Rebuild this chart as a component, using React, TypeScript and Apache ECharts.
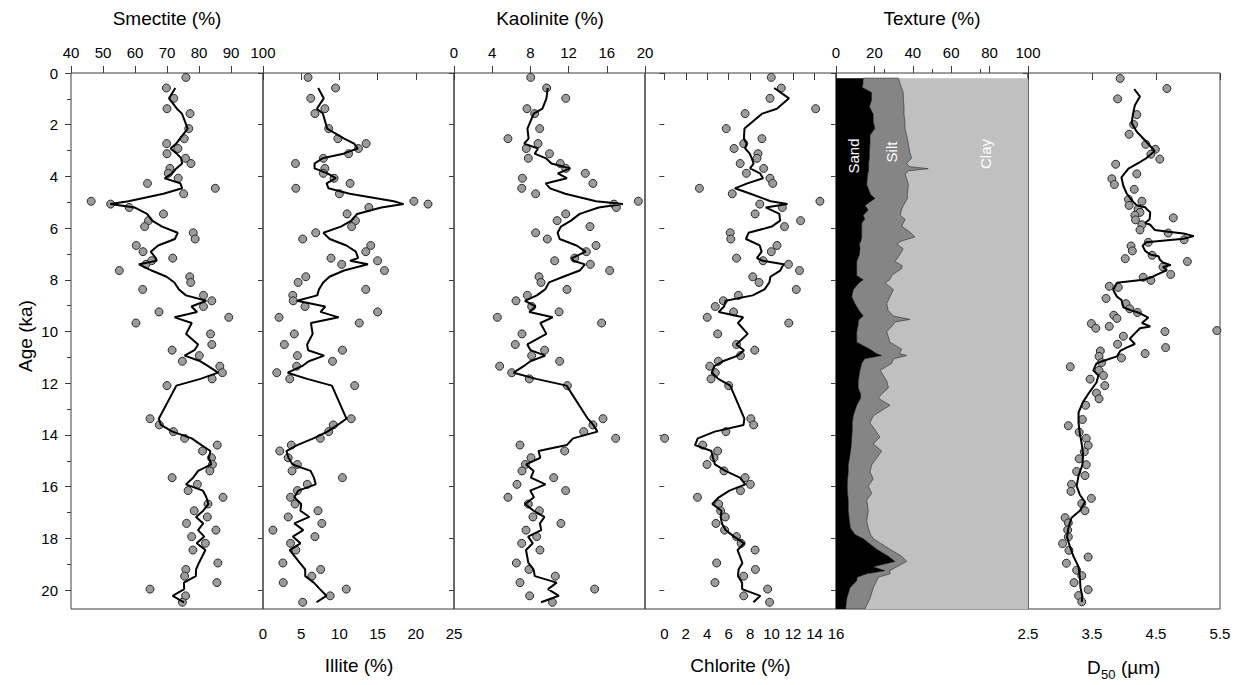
import React, { useEffect, useRef } from "react";
import * as echarts from "echarts";

// ---------- Data ----------
const ageTicks = [0, 2, 4, 6, 8, 10, 12, 14, 16, 18, 20];
const ageMinorTicks = [1, 3, 5, 7, 9, 11, 13, 15, 17, 19];
const smectiteTicks = [40, 50, 60, 70, 80, 90, 100];
const illiteTicks = [0, 5, 10, 15, 20, 25];
const kaoliniteTicks = [0, 4, 8, 12, 16, 20];
const chloriteTicks = [0, 2, 4, 6, 8, 10, 12, 14, 16];
const textureTicks = [0, 20, 40, 60, 80, 100];
const textureMinorTicks = [25, 50, 75];
const d50Ticks = [2.5, 3.5, 4.5, 5.5];

// sample ages shared by the clay-mineral records (ka)
const clayAges = [0.17,0.58,0.98,1.38,1.57,2.15,2.54,2.73,2.92,3.12,3.30,3.50,3.69,3.88,4.07,4.27,4.46,4.67,4.96,5.07,5.20,5.45,5.71,5.94,6.18,6.42,6.67,6.91,7.16,7.26,7.40,7.64,7.88,8.10,8.37,8.60,8.81,9.03,9.24,9.45,9.67,10.09,10.50,10.72,10.93,11.15,11.34,11.59,11.83,12.09,13.37,13.61,13.87,14.13,14.39,14.62,14.88,15.14,15.39,15.65,15.91,16.15,16.41,16.67,16.93,17.17,17.42,17.68,17.93,18.19,18.45,18.95,19.20,19.46,19.71,19.96,20.22,20.47];

const smectite = [75.9,69.8,72.1,70.0,77.2,76.8,75.4,69.9,73.4,70.0,75.8,77.5,70.9,70.4,73.5,63.9,85.1,75.2,46.3,52.4,58.2,68.9,64.2,63.0,78.2,78.8,60.4,62.5,71.8,65.2,63.4,55.1,77.1,77.4,62.4,81.4,84.0,81.4,67.5,89.3,60.3,83.6,84.0,71.6,80.1,74.8,86.5,87.3,84.1,70.0,64.7,67.6,72.0,75.5,85.7,81.1,83.9,84.2,83.4,71.6,79.5,76.6,87.5,82.8,78.5,82.6,76.1,85.3,77.7,82.0,78.1,85.9,75.9,75.5,85.6,64.7,75.8,74.8];
const illite = [5.9,9.5,6.25,8.1,6.8,8.6,9.8,13.5,12.5,11.2,7.9,4.25,8.1,7.9,9.3,11.4,4.3,10.0,19.75,21.6,13.85,11.0,12.1,11.6,6.9,5.2,14.1,13.45,8.9,15.0,10.3,15.9,5.6,4.6,13.45,3.9,3.95,5.5,15.0,2.1,12.6,4.1,2.8,10.4,4.5,9.1,4.4,1.8,3.5,12.0,11.55,9.2,8.6,7.5,3.7,2.2,3.3,4.5,3.8,10.4,5.8,4.5,3.6,4.2,7.2,3.3,7.7,1.3,6.8,3.6,4.3,2.6,7.55,6.4,2.65,10.9,8.8,5.2];
const kaolinite = [8.03,9.7,11.7,7.64,8.45,8.97,5.65,8.8,7.57,10.0,7.78,11.13,11.7,13.75,7.16,14.55,7.09,8.55,19.3,16.75,17.0,11.7,10.8,14.24,8.55,9.77,14.87,13.86,12.64,10.54,14.28,16.3,8.9,9.11,11.83,7.68,6.49,8.13,11.0,4.54,15.46,7.12,6.42,9.49,8.13,11.06,4.78,6.04,7.89,11.87,15.6,14.55,13.58,16.93,6.91,11.59,8.06,7.47,7.12,10.44,6.6,11.69,5.65,7.78,8.94,8.27,11.2,7.54,8.66,7.09,9.0,6.53,7.85,10.61,6.91,14.73,7.92,10.3];
const chlorite = [9.97,10.9,9.85,14.1,7.53,5.77,9.1,7.4,6.5,8.73,8.64,7.07,9.26,7.65,9.85,10.1,3.27,6.33,14.5,8.9,11.0,8.46,12.7,11.2,6.14,6.2,10.5,9.97,6.73,9.2,11.57,12.6,8.24,8.83,12.3,6.9,5.5,4.75,6.45,4.0,11.6,4.97,6.73,8.43,7.1,5.03,4.23,4.75,4.35,6.0,8.06,8.33,5.74,0.03,3.58,4.97,4.63,3.98,5.56,7.53,8.02,7.1,3.09,5.06,5.25,5.68,4.81,5.62,6.73,7.16,8.46,4.88,8.49,7.4,4.72,9.63,7.4,9.81];

// smoothed curves, read at the sample ages from the 2nd sample onward
const smectiteLine = [72.6,70.63,73.1,74.67,76.47,74.03,72.9,71.1,73.07,74.43,74.73,72.93,71.6,69.27,74.17,74.73,68.87,57.97,52.3,59.83,63.77,65.37,68.47,73.33,72.47,67.23,64.9,66.5,66.8,61.23,65.2,69.87,72.3,73.73,75.93,82.27,77.63,79.4,72.37,77.73,75.97,79.73,78.57,75.5,80.47,82.87,85.97,80.47,72.93,67.43,68.1,71.7,77.73,80.77,83.57,83.07,83.83,79.73,78.17,75.9,81.2,82.3,82.93,81.3,79.07,81.33,79.7,81.67,79.27,82.0,79.97,79.1,79.0,75.27,75.37,71.77,75.3];
const illiteLine = [7.22,7.95,7.05,7.83,8.4,10.63,11.93,12.4,10.53,7.78,6.75,6.75,8.43,9.53,8.33,8.57,11.35,17.12,18.4,15.48,12.32,11.57,10.2,7.9,8.73,10.92,12.15,12.45,11.4,13.73,10.6,8.7,7.88,7.32,7.1,4.45,8.15,7.53,9.9,6.27,6.5,5.77,5.9,8.0,6.0,5.1,3.23,5.77,9.02,10.92,9.78,8.43,6.6,4.47,3.07,3.33,3.87,6.23,6.67,6.9,4.63,4.1,5.0,4.9,6.07,4.1,5.27,3.9,4.9,3.5,4.82,5.52,5.53,6.65,7.45,8.3,7.0];
const kaoliniteLine = [9.81,9.68,9.26,8.35,7.69,7.81,7.34,8.79,8.45,9.64,10.2,12.19,10.87,11.82,9.6,10.06,11.65,14.87,17.68,15.15,13.17,12.25,11.2,10.85,11.06,12.83,13.79,12.35,12.49,13.71,13.16,11.44,9.95,9.54,8.67,7.43,8.54,7.89,10.33,9.04,9.67,7.68,8.01,9.56,7.99,7.29,6.24,8.6,11.79,14.01,14.58,15.02,12.47,11.81,8.85,9.04,7.55,8.34,8.05,9.58,7.98,8.37,7.46,8.33,9.47,9.0,9.13,7.76,8.25,7.54,7.79,8.33,8.46,10.75,9.85,10.98,9.11];
const chloriteLine = [10.24,11.62,10.49,9.13,7.47,7.42,7.67,7.54,7.96,8.15,8.32,7.99,8.92,9.2,7.74,6.57,8.03,9.91,11.47,9.45,10.72,10.79,10.01,7.85,7.61,8.89,9.07,8.63,9.17,11.12,10.8,9.89,9.79,9.34,8.23,5.72,5.57,5.07,7.35,6.86,7.77,6.71,7.42,6.85,5.45,4.67,4.44,5.03,6.14,7.46,7.38,4.7,3.12,2.86,4.39,4.53,4.72,5.69,7.04,7.55,6.07,5.08,4.47,5.33,5.25,5.37,5.72,6.5,7.45,6.83,7.28,6.92,6.87,7.25,7.25,8.95,8.3];

// texture (%): sand and sand+silt boundaries
const texAges = [0.2,0.45,0.55,0.75,1.05,1.3,1.6,1.9,2.14,2.41,2.68,3.09,3.29,3.49,3.62,3.7,3.78,3.9,4.31,4.7,4.85,5.12,5.3,5.5,5.66,5.8,5.93,6.15,6.34,6.5,6.61,6.8,7.02,7.29,7.45,7.56,7.83,8.0,8.11,8.38,8.65,8.92,9.19,9.4,9.53,9.63,9.73,10.01,10.41,10.68,10.85,10.93,11.05,11.23,11.5,11.91,12.18,12.4,12.58,12.85,13.26,13.53,13.8,14.08,14.35,14.62,14.89,15.16,15.43,15.7,15.98,16.25,16.52,16.93,17.33,17.6,17.85,18.01,18.42,18.69,18.89,19.1,19.25,19.37,19.5,19.64,19.91,20.32,20.73];
const sand = [14.2,14.0,13.5,18.5,18.5,17.4,19.4,19.4,20.3,17.7,17.7,17.4,17.4,17.0,17.0,17.0,17.0,16.5,16.0,18.0,20.3,15.1,16.8,14.2,15.0,13.4,13.4,13.4,13.4,13.0,12.2,12.5,12.2,10.8,10.8,10.8,10.8,14.2,12.0,9.0,8.2,9.9,12.0,14.2,12.0,11.6,11.6,10.8,10.8,17.7,21.0,23.8,15.0,13.4,12.5,11.6,11.6,12.8,12.8,10.8,9.0,8.5,8.5,8.2,8.0,7.6,7.0,6.4,6.4,6.0,5.9,6.0,6.4,6.4,7.0,7.5,9.9,14.2,21.2,27.3,30.7,19.4,25.5,16.0,11.0,10.8,7.3,5.6,5.0];
const sandPlusSilt = [32.5,33.5,34.0,35.0,35.1,35.4,35.4,35.9,35.9,36.8,37.5,38.5,39.4,36.8,38.0,48.0,38.0,36.0,37.7,37.2,37.2,35.1,34.0,33.5,36.0,35.0,34.2,38.5,41.0,34.0,31.6,35.0,33.3,30.7,34.5,34.2,29.0,28.0,25.5,29.9,28.1,26.4,27.2,30.0,38.5,30.5,29.9,26.4,28.1,34.2,33.0,36.8,30.0,29.0,23.0,26.4,27.3,24.0,22.0,28.1,19.4,17.7,20.3,22.9,19.4,23.8,21.2,18.6,17.7,19.4,16.8,18.6,16.0,16.8,16.0,16.8,18.0,19.4,28.1,34.2,36.8,31.6,28.0,28.1,22.0,21.2,19.4,17.7,15.0];

// D50 (µm)
const d50Ages = [0.21,0.60,1.00,1.61,1.99,2.37,2.76,2.95,3.14,3.33,3.53,3.90,4.09,4.31,4.50,4.89,4.96,5.12,5.26,5.39,5.50,5.60,5.68,5.87,6.07,6.19,6.45,6.55,6.69,6.88,7.05,7.18,7.29,7.50,7.79,7.90,8.02,8.25,8.29,8.72,8.92,9.12,9.26,9.37,9.49,9.69,9.80,9.87,9.96,10.0,10.18,10.49,10.62,10.75,10.85,10.96,11.02,11.20,11.36,11.50,11.70,11.84,12.09,12.38,12.60,12.85,13.40,13.64,13.89,14.13,14.40,14.65,14.92,15.15,15.41,15.57,15.91,16.18,16.45,16.65,16.93,17.20,17.40,17.67,17.94,18.20,18.46,18.72,18.96,19.23,19.44,19.71,19.98,20.21,20.45];
const d50 = [3.94,4.67,3.90,4.20,4.15,4.08,4.34,4.49,4.42,4.56,3.87,4.20,3.81,3.85,4.16,4.07,4.28,4.08,4.22,4.25,4.17,4.77,4.18,4.28,4.25,4.69,4.94,4.38,4.11,4.13,4.44,4.02,4.99,4.61,4.73,4.30,4.42,3.77,3.91,3.72,4.03,4.09,4.21,3.84,3.89,3.49,3.77,3.56,5.45,4.64,3.99,3.90,4.65,3.63,4.33,3.61,3.96,3.65,3.16,3.61,3.68,3.47,3.70,3.57,3.61,3.40,3.35,3.13,3.30,3.41,3.44,3.38,3.30,3.41,3.26,3.39,3.18,3.17,3.49,3.34,3.39,3.08,3.13,3.12,3.13,3.04,3.14,3.44,3.10,3.26,3.34,3.22,3.44,3.29,3.34];
const d50LineAges = [0.62,0.91,1.25,1.59,1.93,2.27,2.61,2.88,3.02,3.29,3.49,3.70,4.04,4.37,4.65,4.92,5.12,5.19,5.28,5.39,5.66,5.80,5.87,6.07,6.14,6.21,6.31,6.41,6.55,6.68,6.88,7.02,7.09,7.22,7.33,7.43,7.50,7.63,7.77,7.90,8.00,8.11,8.38,8.65,8.78,9.06,9.19,9.26,9.46,9.67,9.80,9.87,10.07,10.28,10.48,10.62,10.75,10.96,11.16,11.23,11.50,11.70,11.97,12.31,12.72,13.13,13.53,13.94,14.35,14.75,15.16,15.57,15.98,16.31,16.59,16.93,17.20,17.60,17.94,18.28,18.69,19.10,19.50,19.91,20.25,20.45];
const d50Line = [4.16,4.25,4.17,4.14,4.12,4.20,4.33,4.43,4.48,4.35,4.22,4.07,3.96,3.99,4.04,4.12,4.20,4.33,4.36,4.41,4.40,4.33,4.41,4.48,4.69,4.93,5.09,4.93,4.35,4.29,4.33,4.41,4.54,4.56,4.61,4.73,4.61,4.67,4.54,4.43,4.30,3.89,3.83,3.89,3.96,3.99,4.12,4.22,4.38,4.28,4.41,4.25,4.17,4.09,4.17,4.04,3.94,3.89,3.65,3.57,3.52,3.60,3.57,3.47,3.36,3.29,3.29,3.31,3.34,3.36,3.35,3.29,3.26,3.31,3.39,3.31,3.18,3.13,3.11,3.15,3.21,3.29,3.31,3.32,3.35,3.34];

// ---------- Layout / style ----------
const FONT = "'Liberation Sans', Arial, Helvetica, sans-serif";
const AX = "#3c3c3c";
const AGE_MAX = 20.73;
const TOP = 73;
const BOTTOM = 609;
const edges = [71, 263, 454, 645, 836, 1028, 1220];

function xAx(grid: number, pos: string, min: number, max: number, ticks: number[], labels = true, len = 7) {
  return {
    type: "value", gridIndex: grid, position: pos, min, max,
    axisLine: { show: false }, splitLine: { show: false },
    axisTick: { show: true, inside: false, length: len, customValues: ticks, lineStyle: { color: AX, width: 1 } },
    axisLabel: { show: labels, customValues: ticks, margin: pos === "top" ? 13 : 17, fontSize: 15, color: "#000", fontFamily: FONT },
  };
}
function yAx(grid: number, ticks: number[], labels: boolean, len: number) {
  return {
    type: "value", gridIndex: grid, position: "left", inverse: true, min: 0, max: AGE_MAX,
    axisLine: { show: false }, splitLine: { show: false },
    axisTick: { show: true, inside: false, length: len, customValues: ticks, lineStyle: { color: AX, width: 1 } },
    axisLabel: { show: labels, customValues: ticks, margin: 13, fontSize: 15, color: "#000", fontFamily: FONT },
  };
}

function pts(vals: number[], ages: number[]) {
  return vals.map((v, i) => [v, ages[i]]);
}
function scatter(idx: number, data: number[][]) {
  return {
    type: "scatter", xAxisIndex: idx, yAxisIndex: idx, data, symbolSize: 8, z: 2,
    itemStyle: { color: "#9c9c9c", borderColor: "#2b2b2b", borderWidth: 1, opacity: 1 },
  };
}
function line(idx: number, data: number[][]) {
  return {
    type: "line", xAxisIndex: idx, yAxisIndex: idx, data, showSymbol: false, symbol: "none", z: 3,
    lineStyle: { color: "#000", width: 2 }, clip: true,
  };
}

function areaSeries(leftVals: (i: number) => number, rightVals: (i: number) => number, fill: string, stroke?: string) {
  return {
    type: "custom", xAxisIndex: 4, yAxisIndex: 4, clip: true, silent: true, z: 1,
    data: texAges.map((a, i) => [rightVals(i), a]),
    renderItem: (params: any, api: any) => {
      if (params.dataIndex !== 0) return null;
      const points: number[][] = [];
      for (let i = 0; i < texAges.length; i++) points.push(api.coord([leftVals(i), texAges[i]]));
      for (let i = texAges.length - 1; i >= 0; i--) points.push(api.coord([rightVals(i), texAges[i]]));
      return {
        type: "polygon",
        shape: { points },
        style: { fill, stroke: stroke || "none", lineWidth: stroke ? 0.7 : 0 },
      };
    },
  };
}

function txt(x: number, y: number, text: string, size = 19, opts: any = {}) {
  return {
    type: "text", x, y, rotation: opts.rotation || 0, z: 10,
    style: {
      text, fontSize: size, fontFamily: FONT, fill: opts.fill || "#000",
      align: opts.align || "center", verticalAlign: "middle",
    },
  };
}

export default function App() {
  const ref = useRef<HTMLDivElement>(null);
  useEffect(() => {
    document.body.style.margin = "0";
    const chart = echarts.init(ref.current as HTMLDivElement, null, { renderer: "svg" });
    const grids = edges.slice(0, 6).map((l, i) => ({
      left: l, top: TOP, width: edges[i + 1] - l, height: BOTTOM - TOP,
      show: true, borderColor: AX, borderWidth: 1, backgroundColor: "rgba(0,0,0,0)",
    }));
    const option: any = {
      animation: false,
      textStyle: { fontFamily: FONT },
      grid: grids,
      xAxis: [
        xAx(0, "top", 40, 100, smectiteTicks),
        xAx(1, "bottom", 0, 25, illiteTicks),
        xAx(2, "top", 0, 20, kaoliniteTicks),
        xAx(3, "bottom", -1.8, 16, chloriteTicks),
        xAx(4, "top", 0, 100, textureTicks),
        xAx(5, "bottom", 2.5, 5.5, d50Ticks),
        xAx(4, "top", 0, 100, textureMinorTicks, false, 4),
      ],
      yAxis: [
        yAx(0, ageTicks, true, 6),
        yAx(1, ageTicks, false, 5),
        yAx(2, ageTicks, false, 5),
        yAx(3, ageTicks, false, 5),
        yAx(4, ageTicks, false, 5),
        yAx(5, ageTicks, false, 5),
        yAx(0, ageMinorTicks, false, 4),
      ],
      series: [
        scatter(0, pts(smectite, clayAges)),
        line(0, pts(smectiteLine, clayAges.slice(1))),
        scatter(1, pts(illite, clayAges)),
        line(1, pts(illiteLine, clayAges.slice(1))),
        scatter(2, pts(kaolinite, clayAges)),
        line(2, pts(kaoliniteLine, clayAges.slice(1))),
        scatter(3, pts(chlorite, clayAges)),
        line(3, pts(chloriteLine, clayAges.slice(1))),
        areaSeries((i) => sandPlusSilt[i], () => 100, "#c0c0c0"),
        areaSeries((i) => sand[i], (i) => sandPlusSilt[i], "#858585", "#333"),
        areaSeries(() => 0, (i) => sand[i], "#000"),
        scatter(5, pts(d50, d50Ages)),
        line(5, pts(d50Line, d50LineAges)),
      ],
      graphic: [
        txt(167, 18, "Smectite (%)"),
        txt(550, 18, "Kaolinite (%)"),
        txt(932, 18, "Texture (%)"),
        txt(359, 665, "Illite (%)"),
        txt(740.5, 665, "Chlorite (%)"),
        txt(1087, 667, "D", 19, { align: "left" }),
        txt(1101, 674, "50", 13, { align: "left" }),
        txt(1121, 667, "(\u00b5m)", 19, { align: "left" }),
        txt(25, 336, "Age (ka)", 19, { rotation: Math.PI / 2 }),
        txt(853, 156, "Sand", 15, { rotation: Math.PI / 2, fill: "#fff" }),
        txt(891, 152, "Silt", 15, { rotation: Math.PI / 2, fill: "#fff" }),
        txt(985, 154, "Clay", 15, { rotation: Math.PI / 2, fill: "#fff" }),
      ],
    };
    chart.setOption(option);
    return () => chart.dispose();
  }, []);
  return <div ref={ref} style={{ width: 1244, height: 685 }} />;
}
